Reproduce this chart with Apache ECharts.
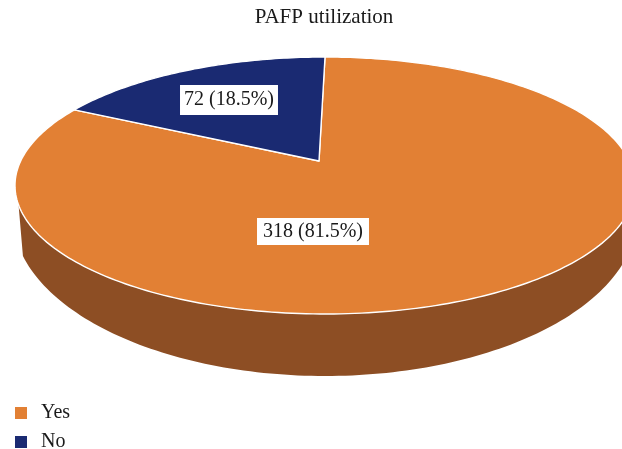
<!DOCTYPE html>
<html><head><meta charset="utf-8">
<style>html,body{margin:0;padding:0;background:#fff}#c{width:622px;height:449px}</style>
<script src="https://cdn.jsdelivr.net/npm/echarts@6/dist/echarts.min.js"></script>
</head><body><div id="c"></div>
<script>
const categories = ['Yes', 'No'];
const values = [318, 72];
const colors = ['#E28034', '#1A2A72'];
const sideColor = '#8D4E24';
const chartTitle = 'PAFP utilization';
const FONT = '"Liberation Serif", serif';

// Projection of the tilted disc
const top_ = {cx: 325, cy: 185.5, rx: 310, ry: 128.5};
const base = {cx: 325, cy: 216, rx: 312, ry: 160};
const apex = {x: 319, y: 161};
const k = 0.248;
const labelAnchors = [[313, 231.5], [229, 100]];
const labelPadding = [[4, 6, 3, 6], [5, 4, 5, 4]];
const legendTops = [403, 432];

const total = values.reduce((a, b) => a + b, 0);
function rim(deg) {
  const th = deg * Math.PI / 180, u = Math.sin(th), v = Math.cos(th);
  const d = 1 + k * v;
  return [top_.cx + top_.rx * u * Math.sqrt(1 - k * k) / d, top_.cy - top_.ry * (v + k) / d];
}
function arc(e, from, to) {
  const pts = [], n = 120;
  for (let i = 0; i <= n; i++) {
    const t = (from + (to - from) * i / n) * Math.PI / 180;
    pts.push([e.cx + e.rx * Math.cos(t), e.cy + e.ry * Math.sin(t)]);
  }
  return pts;
}
function startOf(i) {
  let s = 0;
  for (let j = 0; j < i; j++) s += values[j];
  return s / total * 360;
}
function makeRender(i) {
  return function (params, api) {
    const v = api.value(0);
    const a0 = startOf(i), a1 = a0 + v / total * 360;
    const pts = [[apex.x, apex.y]];
    const steps = Math.ceil(a1 - a0);
    for (let s = 0; s <= steps; s++) pts.push(rim(a0 + (a1 - a0) * s / steps));
    const children = [];
    if (i === 0) {
      const side = arc(top_, 171.3, 8.7).concat(arc(base, 14.5, 165.5));
      children.push({type: 'polygon', shape: {points: side}, style: {fill: sideColor}});
    }
    children.push({type: 'polygon', shape: {points: pts},
      style: {fill: colors[i], stroke: '#fff', lineWidth: 1.4, lineJoin: 'round'}});
    const pct = (v / total * 100).toFixed(1);
    children.push({type: 'text', z2: 10, x: labelAnchors[i][0], y: labelAnchors[i][1],
      style: {text: v + ' (' + pct + '%)', font: '20px ' + FONT, fill: '#1a1a1a',
        align: 'center', verticalAlign: 'middle', backgroundColor: '#fff', padding: labelPadding[i]}});
    return {type: 'group', children};
  };
}
const chart = echarts.init(document.getElementById('c'), null, {renderer: 'canvas'});
chart.setOption({
  animation: false,
  backgroundColor: '#fff',
  title: {text: chartTitle, left: 324, top: 7, padding: 0, textAlign: 'center',
    textStyle: {fontFamily: FONT, fontSize: 21, fontWeight: 'normal', color: '#1a1a1a'}},
  legend: categories.map((name, i) => ({
    orient: 'vertical', left: 15, top: legendTops[i], padding: 0, itemWidth: 12, itemHeight: 12,
    icon: 'rect', data: [name],
    textStyle: {fontFamily: FONT, fontSize: 20, color: '#1a1a1a', padding: [0, 0, 0, 9]}
  })),
  series: categories.map((name, i) => ({
    type: 'custom', name, coordinateSystem: 'none', silent: true,
    itemStyle: {color: colors[i]}, data: [[values[i]]], renderItem: makeRender(i)
  }))
});
</script></body></html>
